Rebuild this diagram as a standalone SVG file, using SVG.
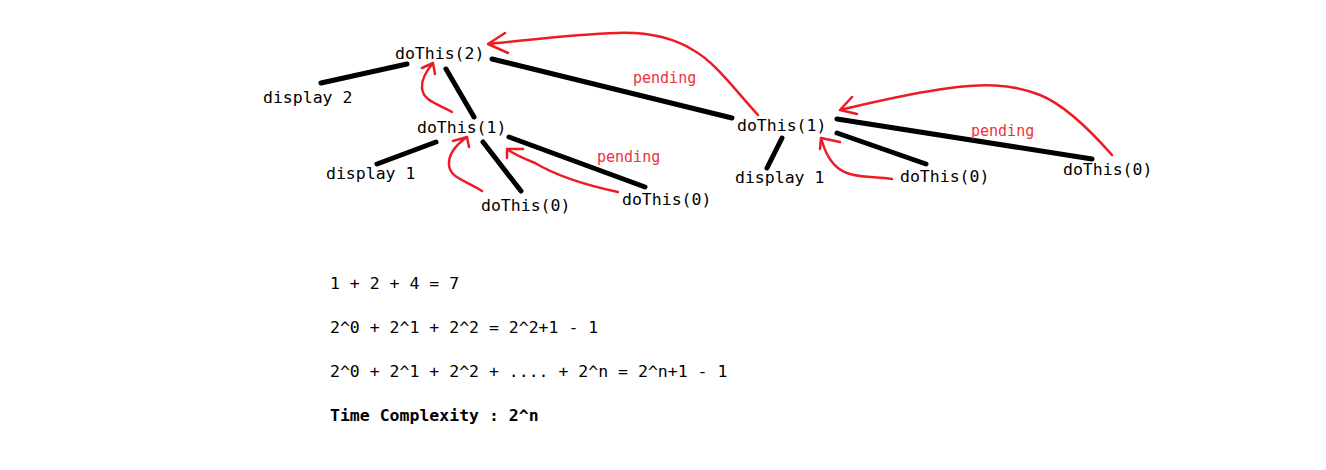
<svg xmlns="http://www.w3.org/2000/svg" width="1326" height="470" viewBox="0 0 1326 470">
<style>
.t{font-family:"DejaVu Sans Mono","Liberation Mono",monospace;font-size:16.5px;fill:#000}
.p{font-family:"DejaVu Sans Mono","Liberation Mono",monospace;font-size:15px;fill:#f0303a}
.b{font-weight:bold}
.e{stroke:#000;stroke-width:5;stroke-linecap:round;fill:none}
.r{stroke:#ed1c24;stroke-width:2.5;stroke-linecap:round;stroke-linejoin:round;fill:none}
</style>
<rect width="1326" height="470" fill="#fff"/>
<g id="connectors">
<line class="e" x1="321" y1="83" x2="407" y2="64"/>
<line class="e" x1="446" y1="69" x2="474" y2="117"/>
<line class="e" x1="492" y1="59" x2="732" y2="118"/>
<line class="e" x1="377" y1="164" x2="436" y2="142"/>
<line class="e" x1="483" y1="142" x2="521" y2="191"/>
<line class="e" x1="509" y1="137" x2="645" y2="187"/>
<line class="e" x1="782" y1="138" x2="767" y2="168"/>
<line class="e" x1="837" y1="133" x2="926" y2="164"/>
<line class="e" x1="837" y1="119" x2="1092" y2="159"/>
<path class="r" d="M452,112 C435,103 423,100 422,88 C421,78 428,69 433,63 M422,68 L433,63 L435,74"/>
<path class="r" d="M482,191 C465,180 450,178 449,165 C448,152 460,142 467,137 M453,141 L467,137 L469,147"/>
<path class="r" d="M618,192 C585,185 555,175 535,163 C520,157 512,153 507,149 M507,158 L507,149 L523,149"/>
<path class="r" d="M758,115 C735,90 715,62 693,50 C670,36 645,32 617,33 C575,34 530,40 488,44 M505,33 L488,44 L508,53"/>
<path class="r" d="M892,179 C870,176 850,178 838,168 C828,160 824,148 821,138 M820,149 L821,138 L840,142"/>
<path class="r" d="M1112,155 C1090,130 1065,105 1040,95 C1010,83 980,84 950,88 C910,93 870,103 840,110 M852,97 L840,110 L857,114"/>
<text class="p" x="633" y="83">pending</text>
<text class="p" x="597" y="162">pending</text>
<text class="p" x="971" y="136">pending</text>
</g>
<g id="n-doThis2"><text class="t" x="395" y="59">doThis(2)</text></g>
<g id="n-display2"><text class="t" x="263" y="103">display 2</text></g>
<g id="n-doThis1L"><text class="t" x="417" y="133">doThis(1)</text></g>
<g id="n-display1L"><text class="t" x="326" y="179">display 1</text></g>
<g id="n-doThis0a"><text class="t" x="481" y="211">doThis(0)</text></g>
<g id="n-doThis0b"><text class="t" x="622" y="205">doThis(0)</text></g>
<g id="n-doThis1R"><text class="t" x="737" y="131">doThis(1)</text></g>
<g id="n-display1R"><text class="t" x="735" y="183">display 1</text></g>
<g id="n-doThis0c"><text class="t" x="900" y="182">doThis(0)</text></g>
<g id="n-doThis0d"><text class="t" x="1063" y="175">doThis(0)</text></g>
<g id="notes">
<text class="t" x="330" y="289">1 + 2 + 4 = 7</text>
<text class="t" x="330" y="333">2^0 + 2^1 + 2^2 = 2^2+1 - 1</text>
<text class="t" x="330" y="377">2^0 + 2^1 + 2^2 + .... + 2^n = 2^n+1 - 1</text>
<text class="t b" x="330" y="421">Time Complexity : 2^n</text>
</g>
</svg>
